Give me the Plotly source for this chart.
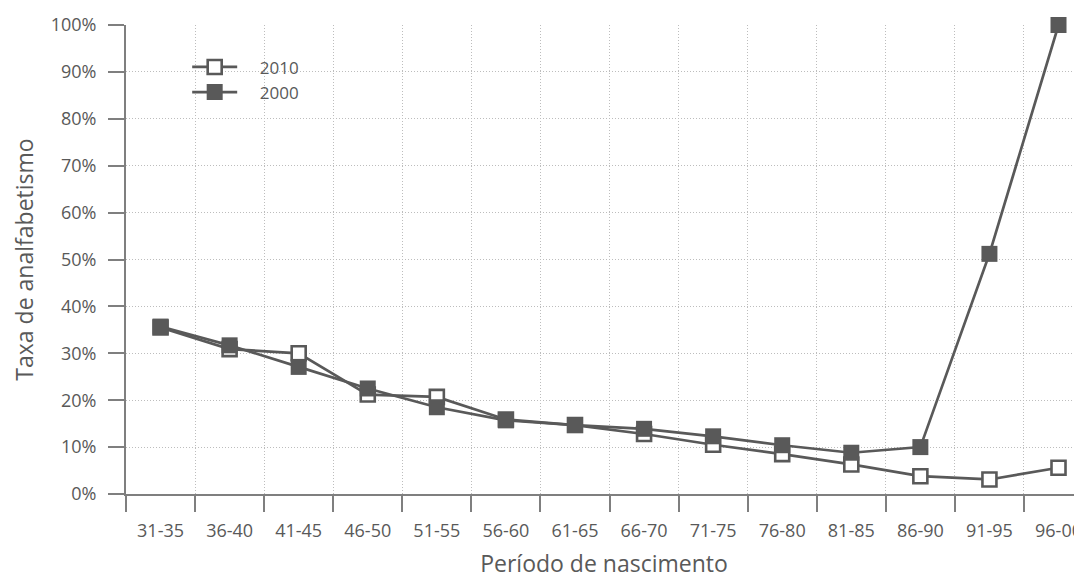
import plotly.graph_objects as go

categories = ["31-35", "36-40", "41-45", "46-50", "51-55", "56-60", "61-65",
              "66-70", "71-75", "76-80", "81-85", "86-90", "91-95", "96-00"]
rate_2010 = [35.5, 30.9, 30.0, 21.2, 20.7, 15.9, 14.7, 12.8, 10.5, 8.5, 6.3, 3.8, 3.1, 5.6]
rate_2000 = [35.7, 31.7, 27.1, 22.5, 18.5, 15.7, 14.7, 13.9, 12.3, 10.4, 8.8, 10.0, 51.2, 100.0]
y_ticks = [0, 10, 20, 30, 40, 50, 60, 70, 80, 90, 100]

GRAY = "#595959"
AXIS = "#7f7f7f"
GRID = "#bdbdbd"
FONT = "Open Sans"
PAD = "\u00a0\u00a0\u00a0\u00a0"

fig = go.Figure()
fig.add_trace(go.Scatter(
    x=categories, y=rate_2010, name=PAD + "2010", mode="lines+markers",
    line=dict(color=GRAY, width=2.7),
    marker=dict(symbol="square", size=14, color="white", line=dict(color=GRAY, width=2.6)),
))
fig.add_trace(go.Scatter(
    x=categories, y=rate_2000, name=PAD + "2000", mode="lines+markers",
    line=dict(color=GRAY, width=2.7),
    marker=dict(symbol="square", size=16, color=GRAY, line=dict(color=GRAY, width=0)),
))

fig.update_layout(
    width=1074, height=571,
    margin=dict(l=118, r=0, t=17, b=85),
    paper_bgcolor="white", plot_bgcolor="white",
    font=dict(family=FONT, color=GRAY, size=18),
    showlegend=True,
    legend=dict(x=0.064, y=0.948, xanchor="left", yanchor="top",
                traceorder="normal", font=dict(size=17, color=GRAY, family=FONT),
                itemwidth=45, tracegroupgap=0, bgcolor="rgba(0,0,0,0)"),
    xaxis=dict(
        type="category", categoryorder="array", categoryarray=categories,
        range=[-0.5, 13.34], tickson="boundaries",
        showgrid=True, gridcolor=GRID, griddash="1px,2px", gridwidth=1,
        showline=True, linecolor=AXIS, linewidth=2,
        ticks="outside", ticklen=16, tickcolor=AXIS, tickwidth=2,
        ticklabelstandoff=19,
        tickfont=dict(size=18, color=GRAY, family=FONT),
        title=dict(text="Período de nascimento", font=dict(size=23, color=GRAY, family=FONT), standoff=23),
        zeroline=False, automargin=False,
    ),
    yaxis=dict(
        range=[0, 100], tickvals=y_ticks, ticktext=[f"{v}%" for v in y_ticks],
        showgrid=True, gridcolor=GRID, griddash="1px,2px", gridwidth=1,
        showline=True, linecolor=AXIS, linewidth=2,
        ticks="outside", ticklen=16, tickcolor=AXIS, tickwidth=2,
        ticklabelstandoff=8,
        tickfont=dict(size=18, color=GRAY, family=FONT),
        title=dict(text="Taxa de analfabetismo", font=dict(size=23, color=GRAY, family=FONT), standoff=24),
        zeroline=False, automargin=False,
    ),
)
fig.update_traces(cliponaxis=False)

fig.write_html("out.html")
